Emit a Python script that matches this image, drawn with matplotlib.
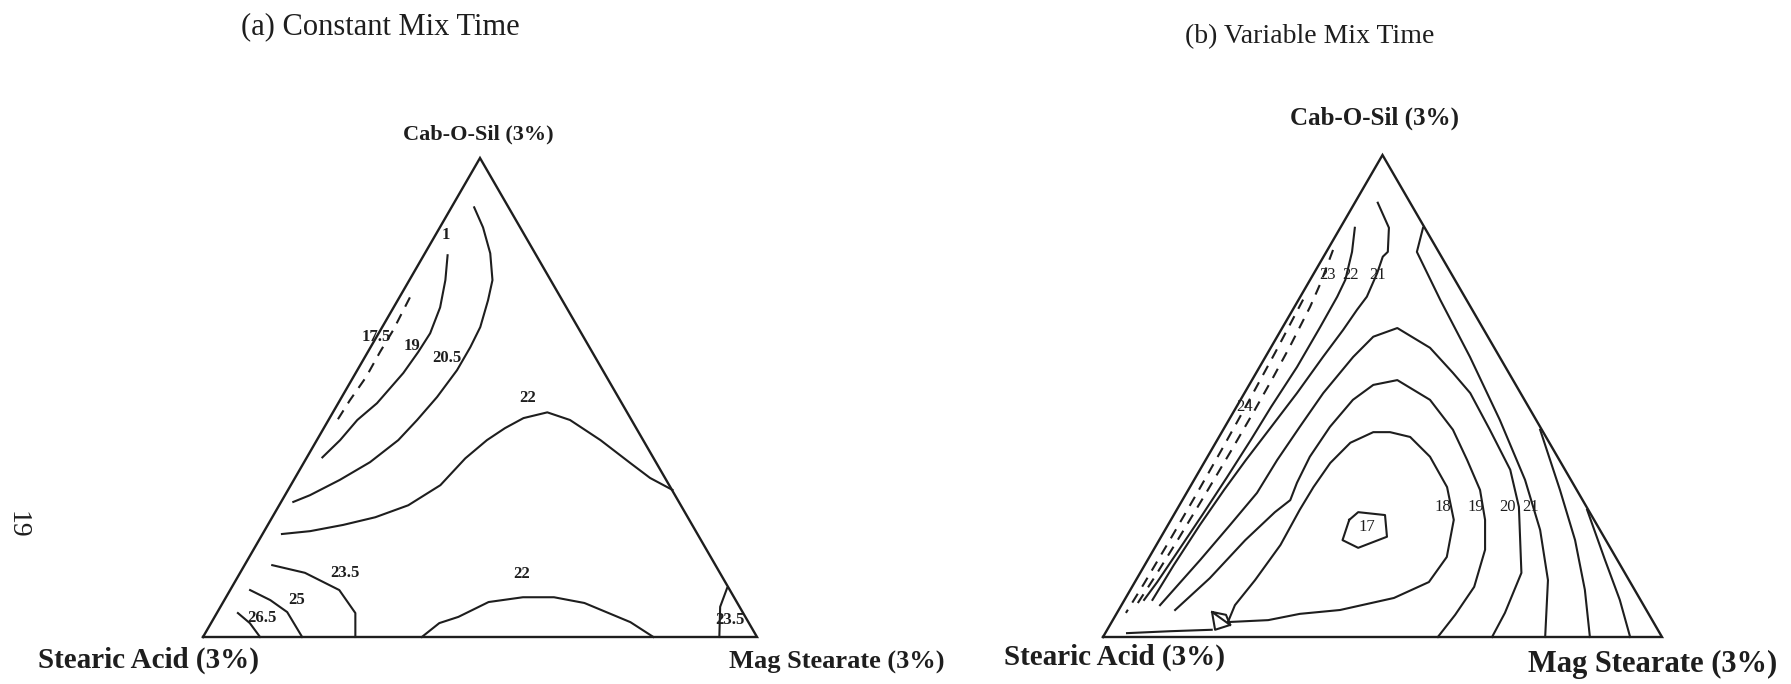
import numpy as np
import matplotlib.pyplot as plt

# Ternary contour plots of the blend response for the three lubricants.
# Every contour is a list of (cab_o_sil, mag_stearate) fractions;
# stearic acid makes up the rest of each blend.

# --- (a) constant mix time ---
a_175 = [(0.709, 0.019), (0.640, 0.023), (0.595, 0.022), (0.542, 0.023),
         (0.494, 0.018), (0.449, 0.016)]
a_19 = [(0.797, 0.043), (0.745, 0.065), (0.688, 0.084), (0.634, 0.093),
        (0.595, 0.091), (0.551, 0.086), (0.488, 0.070), (0.453, 0.052),
        (0.411, 0.042), (0.375, 0.028)]
a_205 = [(0.897, 0.041), (0.855, 0.078), (0.801, 0.118), (0.745, 0.150),
         (0.703, 0.163), (0.647, 0.177), (0.605, 0.180), (0.557, 0.180),
         (0.501, 0.172), (0.453, 0.160), (0.411, 0.147), (0.365, 0.119),
         (0.328, 0.083), (0.296, 0.045), (0.282, 0.022)]
a_22_top = [(0.215, 0.035), (0.221, 0.083), (0.234, 0.136), (0.250, 0.186),
            (0.275, 0.233), (0.317, 0.270), (0.373, 0.287), (0.411, 0.307),
            (0.436, 0.327), (0.457, 0.350), (0.469, 0.387), (0.453, 0.436),
            (0.411, 0.512), (0.363, 0.590), (0.332, 0.641), (0.307, 0.694)]
a_235_left = [(0.150, 0.050), (0.134, 0.117), (0.098, 0.197), (0.050, 0.250),
              (0.0, 0.275)]
a_25 = [(0.098, 0.036), (0.077, 0.083), (0.052, 0.126), (0.0, 0.179)]
a_265 = [(0.050, 0.038), (0.029, 0.070), (0.0, 0.103)]
a_22_base = [(0.0, 0.395), (0.029, 0.412), (0.042, 0.440), (0.073, 0.479),
             (0.083, 0.536), (0.083, 0.592), (0.071, 0.653), (0.031, 0.756),
             (0.0, 0.813)]
a_235_right = [(0.102, 0.895), (0.063, 0.902), (0.0, 0.932)]

a_labels = ["1", "17.5", "19", "20.5", "22", "23.5", "25", "26.5", "22", "23.5"]
a_label_at = [(0.839, 0.018), (0.626, 0.0), (0.607, 0.074), (0.582, 0.150),
              (0.499, 0.336), (0.134, 0.189), (0.077, 0.131), (0.040, 0.087),
              (0.131, 0.509), (0.035, 0.934)]

# --- (b) variable mix time ---
b_24 = [(0.700, 0.008), (0.590, 0.013), (0.490, 0.016), (0.390, 0.018),
        (0.300, 0.019), (0.200, 0.019), (0.110, 0.018), (0.050, 0.016)]
b_23 = [(0.803, 0.010), (0.735, 0.022), (0.685, 0.028), (0.602, 0.033),
        (0.540, 0.035), (0.471, 0.036), (0.388, 0.036), (0.300, 0.035),
        (0.200, 0.033), (0.120, 0.030), (0.070, 0.027)]
b_22 = [(0.849, 0.026), (0.799, 0.046), (0.741, 0.063), (0.706, 0.066),
        (0.643, 0.067), (0.560, 0.067), (0.477, 0.062), (0.409, 0.060),
        (0.330, 0.056), (0.253, 0.051), (0.176, 0.045), (0.114, 0.040),
        (0.077, 0.035)]
b_21 = [(0.901, 0.041), (0.849, 0.087), (0.799, 0.110), (0.789, 0.106),
        (0.755, 0.113), (0.706, 0.119), (0.679, 0.115), (0.637, 0.111),
        (0.581, 0.103), (0.506, 0.094), (0.436, 0.083), (0.367, 0.072),
        (0.305, 0.064), (0.232, 0.057), (0.149, 0.052), (0.077, 0.050)]
b_21_right = [(0.849, 0.148), (0.799, 0.162), (0.699, 0.254), (0.581, 0.366),
              (0.450, 0.485), (0.326, 0.592), (0.222, 0.671), (0.118, 0.737),
              (0.0, 0.791)]
b_22_right = [(0.430, 0.567), (0.305, 0.665), (0.201, 0.744), (0.098, 0.813),
              (0.0, 0.871)]
b_23_right = [(0.264, 0.734), (0.160, 0.818), (0.077, 0.886), (0.0, 0.943)]
b_20 = [(0.066, 0.069), (0.160, 0.094), (0.232, 0.111), (0.299, 0.126),
        (0.367, 0.128), (0.436, 0.134), (0.506, 0.141), (0.581, 0.157),
        (0.623, 0.172), (0.641, 0.206), (0.600, 0.285), (0.548, 0.352),
        (0.506, 0.404), (0.430, 0.477), (0.347, 0.555), (0.270, 0.609),
        (0.133, 0.682), (0.050, 0.694), (0.0, 0.696)]
b_19 = [(0.056, 0.101), (0.122, 0.130), (0.201, 0.154), (0.259, 0.178),
        (0.284, 0.193), (0.320, 0.187), (0.374, 0.183), (0.436, 0.188),
        (0.492, 0.201), (0.523, 0.222), (0.533, 0.260), (0.492, 0.339),
        (0.430, 0.411), (0.367, 0.468), (0.305, 0.522), (0.243, 0.562),
        (0.181, 0.593), (0.104, 0.612), (0.046, 0.607), (0.0, 0.599)]
b_18 = [(0.031, 0.208), (0.035, 0.278), (0.048, 0.328), (0.056, 0.396),
        (0.081, 0.480), (0.114, 0.526), (0.166, 0.532), (0.243, 0.506),
        (0.311, 0.460), (0.374, 0.398), (0.415, 0.342), (0.425, 0.301),
        (0.425, 0.271), (0.403, 0.241), (0.361, 0.226), (0.311, 0.221),
        (0.264, 0.220), (0.191, 0.222), (0.118, 0.213), (0.066, 0.203),
        (0.031, 0.208)]
b_17 = [(0.243, 0.319), (0.259, 0.327), (0.253, 0.378), (0.208, 0.404),
        (0.185, 0.364), (0.201, 0.328), (0.243, 0.319)]
b_knot = [(0.052, 0.169), (0.046, 0.197), (0.025, 0.215), (0.015, 0.193),
          (0.052, 0.169), (0.025, 0.215)]
b_sliver = [(0.008, 0.039), (0.012, 0.114), (0.015, 0.187)]

b_labels = ["24", "23", "22", "21", "17", "18", "19", "20", "21"]
b_label_at = [(0.477, 0.014), (0.751, 0.027), (0.751, 0.068), (0.751, 0.116),
              (0.228, 0.358), (0.270, 0.473), (0.270, 0.532), (0.270, 0.588),
              (0.270, 0.629)]

INK = "#1e1e1e"
SQ3 = np.sqrt(3) / 2
W, H = 1791, 684


def to_xy(pts):
    p = np.asarray(pts, dtype=float)
    cab, mag = p[:, 0], p[:, 1]
    return mag + cab / 2, cab * SQ3


def frame(ax):
    corners = [(0, 0), (0, 1), (1, 0), (0, 0)]
    ax.plot(*to_xy(corners), color=INK, lw=1.7, clip_on=False,
            solid_joinstyle="miter")
    ax.set_xlim(0, 1)
    ax.set_ylim(0, SQ3)
    ax.axis("off")


def contour(ax, pts, dashed=False):
    x, y = to_xy(pts)
    line, = ax.plot(x, y, color=INK, lw=1.5, clip_on=False)
    if dashed:
        line.set_dashes((5, 4))


def put_labels(ax, labels, where, **kw):
    x, y = to_xy(where)
    for s, xi, yi in zip(labels, x, y):
        ax.text(xi, yi, s, ha="center", va="center", color=INK,
                family="Liberation Serif", **kw)


fig = plt.figure(figsize=(W / 100, H / 100), dpi=100)
fig.patch.set_facecolor("white")

ax_a = fig.add_axes([203 / W, 47 / H, 554 / W, 479 / H])
ax_b = fig.add_axes([1103 / W, 47 / H, 559 / W, 482 / H])

frame(ax_a)
contour(ax_a, a_175, dashed=True)
for pts in [a_19, a_205, a_22_top, a_235_left, a_25, a_265, a_22_base,
            a_235_right]:
    contour(ax_a, pts)
put_labels(ax_a, a_labels, a_label_at, fontsize=12, fontweight="bold")

frame(ax_b)
for pts in [b_24, b_23]:
    contour(ax_b, pts, dashed=True)
for pts in [b_22, b_21, b_21_right, b_22_right, b_23_right, b_20, b_19,
            b_18, b_17, b_knot, b_sliver]:
    contour(ax_b, pts)
put_labels(ax_b, b_labels, b_label_at, fontsize=12)


def ftext(x, y, s, **kw):
    fig.text(x / W, 1 - y / H, s, ha="center", va="center", color=INK,
             family="Liberation Serif", **kw)


ftext(380, 27, "(a) Constant Mix Time", fontsize=22)
ftext(1310, 37, "(b) Variable Mix Time", fontsize=20)
ftext(478, 134, "Cab-O-Sil (3%)", fontsize=16, fontweight="bold")
ftext(1375, 118, "Cab-O-Sil (3%)", fontsize=18, fontweight="bold")
ftext(148, 660, "Stearic Acid (3%)", fontsize=21, fontweight="bold")
ftext(837, 662, "Mag Stearate (3%)", fontsize=19, fontweight="bold")
ftext(1114, 657, "Stearic Acid (3%)", fontsize=21, fontweight="bold")
ftext(1653, 664, "Mag Stearate (3%)", fontsize=22, fontweight="bold")
ftext(17, 525, "19", fontsize=20, rotation=-90)

fig.savefig("out.png", dpi=100, facecolor="white")
